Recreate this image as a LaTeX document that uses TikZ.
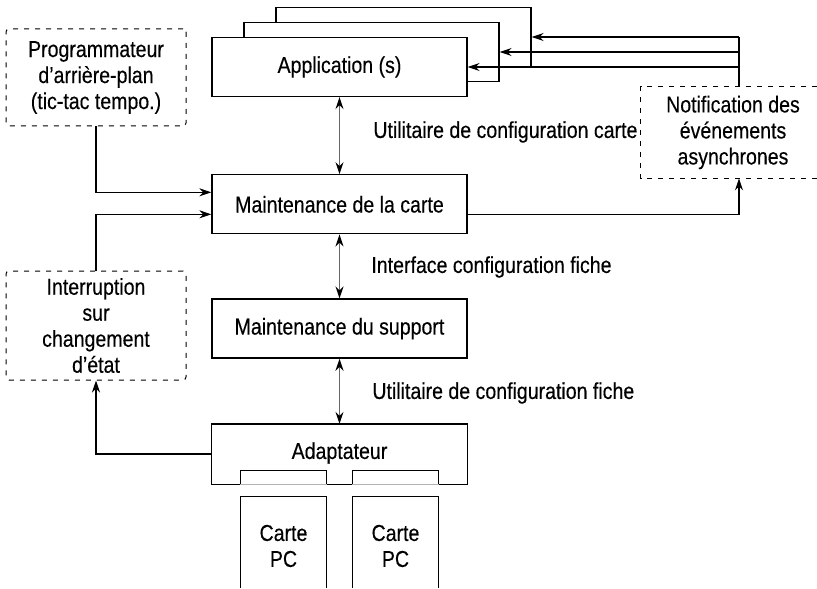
\documentclass[tikz,border=0pt]{standalone}
\usepackage{fontspec}
\setmainfont{Liberation Sans}[FakeStretch=0.85, FakeBold=0.3]
\usetikzlibrary{calc, arrows.meta, positioning}

\begin{document}
\begin{tikzpicture}[x=0.5pt, y=-0.5pt, >={Stealth[length=6pt, width=4pt]},
    every node/.style={font=\fontsize{11.5pt}{13pt}\selectfont},
    box/.style={draw, fill=white, line width=0.65pt, minimum width=127.5pt,
                minimum height=29.5pt, inner sep=0pt, align=center},
    tache/.style={draw, dashed, dash pattern=on 2.5pt off 3pt, line width=0.5pt,
                  rounded corners=1.5pt, inner sep=0pt, align=center},
    carte/.style={draw, line width=0.65pt, minimum width=42.5pt,
                  minimum height=49pt, inner sep=0pt, align=center},
    lbl/.style={anchor=west, inner sep=0pt},
    arr/.style={->, line width=0.65pt},
    arr2/.style={{Stealth[length=6pt, width=4pt, black]}-{Stealth[length=6pt, width=4pt, black]},
                 line width=0.65pt, black!60}
  ]
  \useasboundingbox (0,0) rectangle (817,588);

  % pile des applications
  \node[box] (app3) at (403.5,37) {};
  \node[box] (app2) at ([shift={(-16pt,-7.5pt)}]app3) {};
  \node[box] (app)  at ([shift={(-16pt,-7.5pt)}]app2) {Application (s)};

  % colonne principale
  \node[box, below=38.5pt of app]   (carte) {Maintenance de la carte};
  \node[box, below=32pt of carte]   (sup)   {Maintenance du support};
  \node[box, draw=none, fill=none]  (adapt) at (339.5,454) {};
  \node at ([yshift=0.5pt]adapt.center) {Adaptateur};

  % cartes PC (coupees en bas)
  \node[carte, draw=none] (pc1) at (283.5,546) {Carte\\PC};
  \node[carte, draw=none] (pc2) at (395.5,546) {Carte\\PC};
  \foreach \c in {pc1,pc2}
    \draw[line width=0.65pt] (\c.north west |- 0,588) -- (\c.north west)
      -- (\c.north east) -- (\c.north east |- 0,588);

  % contour de l'adaptateur avec les fentes
  \coordinate (f1) at (pc1.north west |- adapt.south);
  \coordinate (f2) at (pc1.north east |- adapt.south);
  \coordinate (f3) at (pc2.north west |- adapt.south);
  \coordinate (f4) at (pc2.north east |- adapt.south);
  \draw[line width=0.65pt] (adapt.south west) -- (f1) -- ++(0,-14) -| (f2) -- (f3)
    -- ++(0,-14) -| (f4) -- (adapt.south east) -- (adapt.north east)
    -- (adapt.north west) -- cycle;
  \draw[line width=0.65pt, black!30] (f1) -- (f2) (f3) -- (f4);

  % taches annexes
  \node[tache, minimum width=90pt, minimum height=48.5pt] (prog) at (96,77.5)
    {Programmateur\\d'arrière-plan\\(tic-tac tempo.)};
  \node[tache, minimum width=90pt, minimum height=54.5pt] (intr) at (96,325.5)
    {Interruption\\sur\\changement\\d'état};
  \node[align=center, inner sep=0pt, minimum width=92pt, minimum height=45.5pt]
    (notif) at (733,132.5) {Notification des\\événements\\asynchrones};
  \draw[dashed, dash pattern=on 2.5pt off 3pt, line width=0.5pt]
    (notif.north west -| 817,0) -- (notif.north west) -- (notif.south west)
    -- (notif.south west -| 817,0);
  \coordinate (nb) at ([xshift=3pt]notif.south);
  \coordinate (nt) at ([xshift=3pt]notif.north);

  % libelles
  \node[lbl] (u1) at (373,132) {Utilitaire de configuration carte};
  \node[lbl] (u2) at (371,267) {Interface configuration fiche};
  \node[lbl] (u3) at (372,393) {Utilitaire de configuration fiche};

  % liaisons
  \draw[arr2] (app) -- (carte);
  \draw[arr2] (carte) -- (sup);
  \draw[arr2] (sup) -- (adapt);

  \draw[arr] (prog.south) |- ([yshift=6pt]carte.west);
  \draw[arr] (intr.north) |- ([yshift=-5pt]carte.west);
  \draw[arr] (adapt.west) -| (intr.south);
  \draw[arr] ([yshift=-5pt]carte.east) -| (nb);

  \draw[line width=0.65pt] (nt) -- (nt |- app3.east);
  \draw[arr] (nt |- app3.east) -- (app3.east);
  \draw[arr] (nt |- app2.east) -- (app2.east);
  \draw[arr] (nt |- app.east) -- (app.east);

\end{tikzpicture}
\end{document}
